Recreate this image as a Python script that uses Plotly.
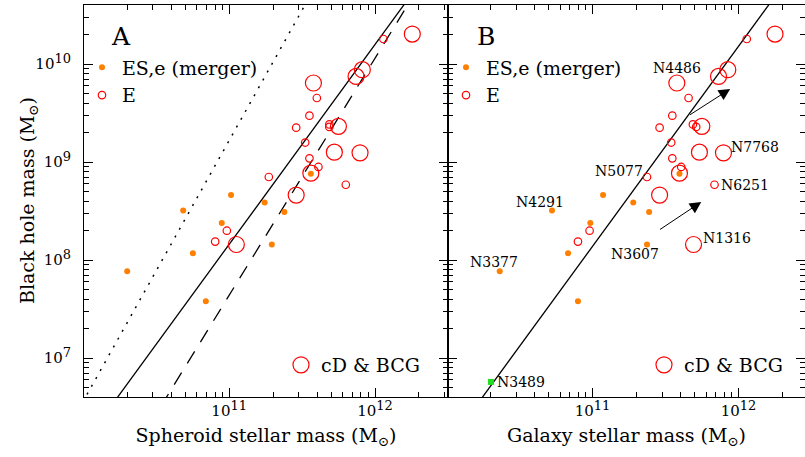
import numpy as np
import plotly.graph_objects as go

FONT = "DejaVu Serif"
ORANGE = "#ff8000"
RED = "#ff0000"
GREEN = "#22dd22"

# --- ES,e (merger) galaxies -------------------------------------------
mbh_ese = [7.66e7, 3.2e8, 1.17e8, 3.8e7, 2.39e8, 4.6e8, 3.87e8, 1.44e8, 3.09e8, 7.6e8]
msph_ese = [2.0e10, 4.84e10, 5.64e10, 6.92e10, 8.9e10, 1.03e11, 1.75e11, 1.96e11, 2.39e11, 3.63e11]
mgal_ese = [2.31e10, 5.27e10, 6.79e10, 7.94e10, 9.65e10, 1.18e11, 1.90e11, 2.36e11, 2.44e11, 3.94e11]

# --- E galaxies ---------------------------------------------------------
mbh_e = [1.80e10, 4.5e9, 2.97e9, 2.24e9, 2.42e9, 2.28e9, 1.58e9, 1.09e9, 8.9e8, 7.03e8, 5.86e8, 1.99e8, 1.54e8]
msph_e = [1.14e12, 3.99e11, 3.55e11, 2.88e11, 4.86e11, 4.86e11, 3.32e11, 3.55e11, 4.09e11, 1.87e11, 6.3e11, 9.64e10, 8.02e10]
mgal_e = [1.14e12, 4.55e11, 3.52e11, 2.88e11, 4.87e11, 5.13e11, 3.46e11, 3.52e11, 4.05e11, 2.36e11, 6.85e11, 9.54e10, 7.94e10]

# --- cD & BCG -------------------------------------------------------------
mbh_cd = [2.02e10, 8.75e9, 7.47e9, 6.4e9, 2.31e9, 1.26e9, 1.24e9, 7.7e8, 4.6e8, 1.44e8]
msph_cd = [1.80e12, 8.18e11, 7.41e11, 3.78e11, 5.61e11, 5.26e11, 7.89e11, 3.63e11, 2.88e11, 1.12e11]
mgal_cd = [1.78e12, 8.45e11, 7.3e11, 3.78e11, 5.61e11, 5.4e11, 7.89e11, 3.94e11, 2.88e11, 4.92e11]

# --- NGC 3489 -------------------------------------------------------------
mbh_n3489 = [5.7e6]
mgal_n3489 = [2.01e10]

# Scaling relations: log Mbh = a + b * (log M* - 11)
rel_solid_a = (8.16, 2.04)
rel_dashed_a = (7.64, 2.42)
rel_dotted_a = (9.22, 2.66)
rel_solid_b = (8.14, 2.04)

# Named galaxies in panel B: (name, group, index, xanchor, xshift, yshift)
labels_b = [
    ("N4486", "cd", 3, "center", 0, 15),
    ("N7768", "cd", 6, "left", 6, 6),
    ("N6251", "e", 10, "left", 4, 0),
    ("N5077", "e", 9, "right", -2, 6),
    ("N4291", "ese", 1, "center", -12, 9),
    ("N3377", "ese", 0, "center", -6, 9),
    ("N3607", "ese", 7, "center", -12, -10),
    ("N1316", "cd", 9, "left", 7, 6),
    ("N3489", "n3489", 0, "left", 4, 0),
]

# Arrows in panel B: (tail mass, tail Mbh, head mass, head Mbh)
arrows_b = [
    (4.55e11, 2.97e9, 8.77e11, 5.56e9),
    (2.83e11, 2.0e8, 5.56e11, 3.91e8),
]

def power_label(e):
    return "10<sup><span style='font-size:13px'>%d</span></sup>" % e

x_tickvals = [1e11, 1e12]
x_ticktext = [power_label(11), power_label(12)]
y_tickvals = [1e7, 1e8, 1e9, 1e10]
y_ticktext = [power_label(7), power_label(8), power_label(9), power_label(10)]

minor_x = [m * 10.0 ** e for e in (10, 11, 12) for m in range(2, 10)]
minor_y = [m * 10.0 ** e for e in (6, 7, 8, 9, 10) for m in range(2, 10)]

xrange_a = [10.005, 12.5]
xrange_b = [10.009, 12.456]
yrange = [np.log10(4e6), np.log10(4e10)]

W, H = 805, 457
ML, MR, MT, MB = 84, 0, 5, 60
plot_w = W - ML - MR
plot_h = H - MT - MB
split = (448 - ML) / plot_w

fig = go.Figure()

def relation(rel, xr):
    lx = np.linspace(xr[0] - 0.1, xr[1] + 0.1, 2)
    return 10 ** lx, 10 ** (rel[0] + rel[1] * (lx - 11))

for rel, dash, w in [(rel_dotted_a, "2px,7px", 1.5), (rel_solid_a, "solid", 1.3), (rel_dashed_a, "14px,11px", 1.3)]:
    lx, ly = relation(rel, xrange_a)
    fig.add_trace(go.Scatter(x=lx, y=ly, mode="lines", xaxis="x", yaxis="y",
                             line=dict(color="black", width=w, dash=dash), showlegend=False, hoverinfo="skip"))

lx, ly = relation(rel_solid_b, xrange_b)
fig.add_trace(go.Scatter(x=lx, y=ly, mode="lines", xaxis="x2", yaxis="y2",
                         line=dict(color="black", width=1.3), showlegend=False, hoverinfo="skip"))

legend_font = dict(family=FONT, size=19, color="black")

for (xa, ya, xs_ese, xs_e, xs_cd, lg, lg_cd) in [
    ("x", "y", msph_ese, msph_e, msph_cd, "legend", "legend3"),
    ("x2", "y2", mgal_ese, mgal_e, mgal_cd, "legend2", "legend4"),
]:
    fig.add_trace(go.Scatter(x=xs_cd, y=mbh_cd, mode="markers", xaxis=xa, yaxis=ya, name="cD & BCG",
                             legend=lg_cd,
                             marker=dict(symbol="circle-open", size=16, color=RED, line=dict(width=1.2))))
    fig.add_trace(go.Scatter(x=xs_ese, y=mbh_ese, mode="markers", xaxis=xa, yaxis=ya, name="ES,e (merger)",
                             legend=lg, marker=dict(symbol="circle", size=6, color=ORANGE)))
    fig.add_trace(go.Scatter(x=xs_e, y=mbh_e, mode="markers", xaxis=xa, yaxis=ya, name="E",
                             legend=lg,
                             marker=dict(symbol="circle-open", size=7.5, color=RED, line=dict(width=1.2))))

fig.add_trace(go.Scatter(x=mgal_n3489, y=mbh_n3489, mode="markers", xaxis="x2", yaxis="y2",
                         marker=dict(symbol="square", size=6, color=GREEN), showlegend=False))

groups_b = {
    "ese": (mgal_ese, mbh_ese),
    "e": (mgal_e, mbh_e),
    "cd": (mgal_cd, mbh_cd),
    "n3489": (mgal_n3489, mbh_n3489),
}

annotations = []
for name, grp, idx, anchor, xs, ys in labels_b:
    gx, gy = groups_b[grp]
    annotations.append(dict(x=np.log10(gx[idx]), y=np.log10(gy[idx]), xref="x2", yref="y2",
                            text=name, showarrow=False, xanchor=anchor, yanchor="middle",
                            xshift=xs, yshift=ys, font=dict(family=FONT, size=14, color="black")))

for tx, ty, hx, hy in arrows_b:
    annotations.append(dict(x=np.log10(hx), y=np.log10(hy), ax=np.log10(tx), ay=np.log10(ty),
                            xref="x2", yref="y2", axref="x2", ayref="y2", text="",
                            showarrow=True, arrowhead=2, arrowsize=2.3, arrowwidth=1, arrowcolor="black",
                            standoff=0, startstandoff=0))

for letter, xr, xpos in [("A", "x domain", (121 - 84) / 364), ("B", "x2 domain", (486 - 448) / 357)]:
    annotations.append(dict(x=xpos, y=1 - (37 - MT) / plot_h, xref=xr, yref="y domain", text=letter,
                            showarrow=False, xanchor="center", yanchor="middle",
                            font=dict(family=FONT, size=25, color="black")))

# vertical axis title for the shared black-hole-mass axis
annotations.append(dict(x=(28 - ML) / plot_w, y=0.5, xref="paper", yref="paper",
                        text="Black hole mass (M<sub>⊙</sub>)", textangle=-90, showarrow=False,
                        xanchor="center", yanchor="middle",
                        font=dict(family=FONT, size=19, color="black")))

axis_common = dict(
    type="log", showgrid=False, zeroline=False, showline=True, linecolor="black", linewidth=1,
    mirror="allticks", ticks="inside", ticklen=9, tickwidth=1, tickcolor="black",
    minor=dict(ticks="inside", ticklen=5, tickwidth=1, tickcolor="black", showgrid=False),
    tickfont=dict(family=FONT, size=15, color="black"),
)

title_font = dict(family=FONT, size=19, color="black")

def legend_box(left_px, top_px):
    return dict(x=(left_px - ML) / plot_w, y=1 - (top_px - MT) / plot_h, xanchor="left", yanchor="top",
                bgcolor="rgba(0,0,0,0)", font=legend_font, itemsizing="trace")

fig.update_layout(
    width=W, height=H, margin=dict(l=ML, r=MR, t=MT, b=MB),
    paper_bgcolor="white", plot_bgcolor="white",
    annotations=annotations,
    xaxis=dict(axis_common, domain=[0, split], range=xrange_a, anchor="y",
               tickmode="array", tickvals=x_tickvals, ticktext=x_ticktext,
               minor=dict(axis_common["minor"], tickmode="array", tickvals=minor_x),
               title=dict(text="Spheroid stellar mass (M<sub>⊙</sub>)", font=title_font, standoff=9)),
    xaxis2=dict(axis_common, domain=[split, 1], range=xrange_b, anchor="y2",
                tickmode="array", tickvals=x_tickvals, ticktext=x_ticktext,
                minor=dict(axis_common["minor"], tickmode="array", tickvals=minor_x),
                title=dict(text="Galaxy stellar mass (M<sub>⊙</sub>)", font=title_font, standoff=9)),
    yaxis=dict(axis_common, domain=[0, 1], range=yrange, anchor="x",
               tickmode="array", tickvals=y_tickvals, ticktext=y_ticktext, ticklabelstandoff=9,
               minor=dict(axis_common["minor"], tickmode="array", tickvals=minor_y)),
    yaxis2=dict(axis_common, domain=[0, 1], range=yrange, anchor="x2", showticklabels=False,
                tickmode="array", tickvals=y_tickvals,
                minor=dict(axis_common["minor"], tickmode="array", tickvals=minor_y)),
    legend=legend_box(82, 48.5),
    legend2=legend_box(446, 48.5),
    legend3=legend_box(281, 346),
    legend4=legend_box(644, 346),
)

fig.write_html("out.html")
